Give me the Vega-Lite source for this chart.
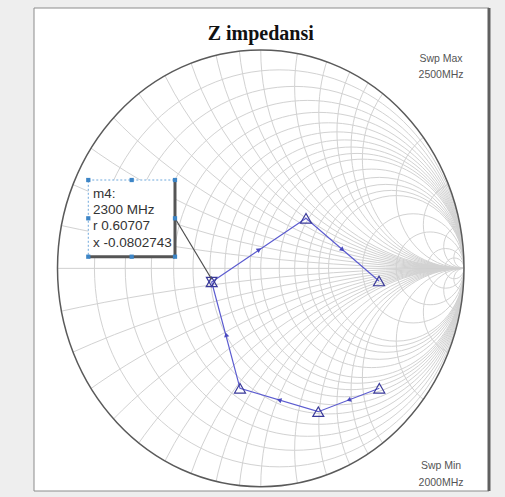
{
  "$schema": "https://vega.github.io/schema/vega-lite/v6.json",
  "width": 455,
  "height": 483,
  "autosize": {"type": "none"},
  "padding": {"left": 34, "top": 8, "right": 16, "bottom": 6},
  "background": "#eeeeee",
  "config": {"view": {"fill": "#ffffff", "stroke": null}},
  "datasets": {
    "grid": [
      {"kind": "r", "v": 0.1, "gx": 0.0909, "gy": 0, "rad": 0.9091},
      {"kind": "r", "v": 0.2, "gx": 0.1667, "gy": 0, "rad": 0.8333},
      {"kind": "r", "v": 0.3, "gx": 0.2308, "gy": 0, "rad": 0.7692},
      {"kind": "r", "v": 0.4, "gx": 0.2857, "gy": 0, "rad": 0.7143},
      {"kind": "r", "v": 0.5, "gx": 0.3333, "gy": 0, "rad": 0.6667},
      {"kind": "r", "v": 0.6, "gx": 0.375, "gy": 0, "rad": 0.625},
      {"kind": "r", "v": 0.7, "gx": 0.4118, "gy": 0, "rad": 0.5882},
      {"kind": "r", "v": 0.8, "gx": 0.4444, "gy": 0, "rad": 0.5556},
      {"kind": "r", "v": 0.9, "gx": 0.4737, "gy": 0, "rad": 0.5263},
      {"kind": "r", "v": 1, "gx": 0.5, "gy": 0, "rad": 0.5},
      {"kind": "r", "v": 1.2, "gx": 0.5455, "gy": 0, "rad": 0.4545},
      {"kind": "r", "v": 1.4, "gx": 0.5833, "gy": 0, "rad": 0.4167},
      {"kind": "r", "v": 1.6, "gx": 0.6154, "gy": 0, "rad": 0.3846},
      {"kind": "r", "v": 1.8, "gx": 0.6429, "gy": 0, "rad": 0.3571},
      {"kind": "r", "v": 2, "gx": 0.6667, "gy": 0, "rad": 0.3333},
      {"kind": "r", "v": 3, "gx": 0.75, "gy": 0, "rad": 0.25},
      {"kind": "r", "v": 5, "gx": 0.8333, "gy": 0, "rad": 0.1667},
      {"kind": "r", "v": 10, "gx": 0.9091, "gy": 0, "rad": 0.0909},
      {"kind": "r", "v": 20, "gx": 0.9524, "gy": 0, "rad": 0.0476},
      {"kind": "x", "v": 0.1, "gx": 1, "gy": 10, "rad": 10},
      {"kind": "x", "v": -0.1, "gx": 1, "gy": -10, "rad": 10},
      {"kind": "x", "v": 0.2, "gx": 1, "gy": 5, "rad": 5},
      {"kind": "x", "v": -0.2, "gx": 1, "gy": -5, "rad": 5},
      {"kind": "x", "v": 0.3, "gx": 1, "gy": 3.3333, "rad": 3.3333},
      {"kind": "x", "v": -0.3, "gx": 1, "gy": -3.3333, "rad": 3.3333},
      {"kind": "x", "v": 0.4, "gx": 1, "gy": 2.5, "rad": 2.5},
      {"kind": "x", "v": -0.4, "gx": 1, "gy": -2.5, "rad": 2.5},
      {"kind": "x", "v": 0.5, "gx": 1, "gy": 2, "rad": 2},
      {"kind": "x", "v": -0.5, "gx": 1, "gy": -2, "rad": 2},
      {"kind": "x", "v": 0.6, "gx": 1, "gy": 1.6667, "rad": 1.6667},
      {"kind": "x", "v": -0.6, "gx": 1, "gy": -1.6667, "rad": 1.6667},
      {"kind": "x", "v": 0.7, "gx": 1, "gy": 1.4286, "rad": 1.4286},
      {"kind": "x", "v": -0.7, "gx": 1, "gy": -1.4286, "rad": 1.4286},
      {"kind": "x", "v": 0.8, "gx": 1, "gy": 1.25, "rad": 1.25},
      {"kind": "x", "v": -0.8, "gx": 1, "gy": -1.25, "rad": 1.25},
      {"kind": "x", "v": 0.9, "gx": 1, "gy": 1.1111, "rad": 1.1111},
      {"kind": "x", "v": -0.9, "gx": 1, "gy": -1.1111, "rad": 1.1111},
      {"kind": "x", "v": 1, "gx": 1, "gy": 1, "rad": 1},
      {"kind": "x", "v": -1, "gx": 1, "gy": -1, "rad": 1},
      {"kind": "x", "v": 1.2, "gx": 1, "gy": 0.8333, "rad": 0.8333},
      {"kind": "x", "v": -1.2, "gx": 1, "gy": -0.8333, "rad": 0.8333},
      {"kind": "x", "v": 1.4, "gx": 1, "gy": 0.7143, "rad": 0.7143},
      {"kind": "x", "v": -1.4, "gx": 1, "gy": -0.7143, "rad": 0.7143},
      {"kind": "x", "v": 1.6, "gx": 1, "gy": 0.625, "rad": 0.625},
      {"kind": "x", "v": -1.6, "gx": 1, "gy": -0.625, "rad": 0.625},
      {"kind": "x", "v": 1.8, "gx": 1, "gy": 0.5556, "rad": 0.5556},
      {"kind": "x", "v": -1.8, "gx": 1, "gy": -0.5556, "rad": 0.5556},
      {"kind": "x", "v": 2, "gx": 1, "gy": 0.5, "rad": 0.5},
      {"kind": "x", "v": -2, "gx": 1, "gy": -0.5, "rad": 0.5},
      {"kind": "x", "v": 3, "gx": 1, "gy": 0.3333, "rad": 0.3333},
      {"kind": "x", "v": -3, "gx": 1, "gy": -0.3333, "rad": 0.3333},
      {"kind": "x", "v": 5, "gx": 1, "gy": 0.2, "rad": 0.2},
      {"kind": "x", "v": -5, "gx": 1, "gy": -0.2, "rad": 0.2},
      {"kind": "x", "v": 10, "gx": 1, "gy": 0.1, "rad": 0.1},
      {"kind": "x", "v": -10, "gx": 1, "gy": -0.1, "rad": 0.1},
      {"kind": "x", "v": 20, "gx": 1, "gy": 0.05, "rad": 0.05},
      {"kind": "x", "v": -20, "gx": 1, "gy": -0.05, "rad": 0.05}
    ],
    "trace": [
      {"f": 2000, "gx": 0.5833, "gy": -0.5494},
      {"f": 2100, "gx": 0.2831, "gy": -0.6565},
      {"f": 2200, "gx": -0.1021, "gy": -0.5494},
      {"f": 2300, "gx": -0.2414, "gy": -0.062},
      {"f": 2400, "gx": 0.2226, "gy": 0.2292},
      {"f": 2500, "gx": 0.5818, "gy": -0.0579}
    ],
    "arrows": [
      {"seg": "2000-2100", "gx": 0.4332, "gy": -0.603, "heading": 249},
      {"seg": "2100-2200", "gx": 0.0905, "gy": -0.603, "heading": 287},
      {"seg": "2200-2300", "gx": -0.1703, "gy": -0.3037, "heading": 345},
      {"seg": "2300-2400", "gx": -0.0079, "gy": 0.0857, "heading": 56},
      {"seg": "2400-2500", "gx": 0.4022, "gy": 0.0857, "heading": 131}
    ],
    "handles": [
      {"gx": -0.8485, "gy": 0.4046},
      {"gx": -0.635, "gy": 0.4046},
      {"gx": -0.4219, "gy": 0.4046},
      {"gx": -0.8485, "gy": 0.2292},
      {"gx": -0.4219, "gy": 0.2292},
      {"gx": -0.8485, "gy": 0.0534},
      {"gx": -0.635, "gy": 0.0534},
      {"gx": -0.4219, "gy": 0.0534}
    ],
    "notes": [
      {"gx": 0.887, "gy": 0.945, "label": "Swp Max"},
      {"gx": 0.887, "gy": 0.874, "label": "2500MHz"},
      {"gx": 0.887, "gy": -0.918, "label": "Swp Min"},
      {"gx": 0.887, "gy": -0.996, "label": "2000MHz"}
    ],
    "markerText": [
      {"gx": -0.8256, "gy": 0.3222, "label": "m4:"},
      {"gx": -0.8256, "gy": 0.248, "label": "2300 MHz"},
      {"gx": -0.8256, "gy": 0.1738, "label": "r 0.60707"},
      {"gx": -0.8256, "gy": 0.0996, "label": "x -0.0802743"}
    ]
  },
  "encoding": {
    "x": {"field": "gx", "type": "quantitative", "axis": null, "scale": {"domain": [-1.1156, 1.123], "nice": false, "zero": false}},
    "y": {"field": "gy", "type": "quantitative", "axis": null, "scale": {"domain": [-1.0197, 1.1924], "nice": false, "zero": false}}
  },
  "layer": [
    {
      "data": {"name": "grid"},
      "mark": {"type": "point", "shape": "M -1 0 A 1 1.0743 0 1 1 1 0 A 1 1.0743 0 1 1 -1 0 Z", "filled": false, "stroke": "#d2d2d2", "strokeWidth": 1, "opacity": 1, "clip": true},
      "encoding": {
        "size": {"field": "rad", "type": "quantitative", "legend": null, "scale": {"type": "pow", "exponent": 2, "domain": [0, 10], "range": [0, 16524225], "clamp": false, "nice": false, "zero": true}}
      }
    },
    {
      "data": {"values": [{"gx": -1, "gx2": 1, "gy": 0}]},
      "mark": {"type": "rule", "stroke": "#cfcfcf", "strokeWidth": 1},
      "encoding": {"x2": {"field": "gx2"}}
    },
    {
      "data": {"values": [{"gx": 0, "gy": 0, "rad": 1}]},
      "mark": {"type": "point", "shape": "M -20 -20 H 20 V 20 H -20 Z M -1 0 A 1 1.0743 0 1 0 1 0 A 1 1.0743 0 1 0 -1 0 Z", "filled": true, "fill": "#ffffff", "strokeWidth": 0, "opacity": 1, "clip": true},
      "encoding": {"size": {"field": "rad", "type": "quantitative", "legend": null}}
    },
    {
      "data": {"values": [{"gx": 0, "gy": 0, "rad": 1}]},
      "mark": {"type": "point", "shape": "M -1 0 A 1 1.0743 0 1 1 1 0 A 1 1.0743 0 1 1 -1 0 Z", "filled": false, "stroke": "#5a5a5a", "strokeWidth": 1.5, "opacity": 1},
      "encoding": {"size": {"field": "rad", "type": "quantitative", "legend": null}}
    },
    {
      "data": {"values": [{"gx": -1.1156, "gx2": 1.123, "gy": -1.0197, "gy2": 1.1924}]},
      "mark": {"type": "rect", "fill": null, "stroke": "#8c8c8c", "strokeWidth": 1, "clip": false},
      "encoding": {"x2": {"field": "gx2"}, "y2": {"field": "gy2"}}
    },
    {
      "data": {"values": [{"gx": 1.123, "gy": -1.0197, "gy2": 1.1924}]},
      "mark": {"type": "rule", "stroke": "#606060", "strokeWidth": 3, "clip": false},
      "encoding": {"y2": {"field": "gy2"}}
    },
    {
      "data": {"values": [{"gx": 0, "gy": 1.0481, "label": "Z impedansi"}]},
      "mark": {"type": "text", "font": "Liberation Serif", "fontSize": 20, "fontWeight": "bold", "align": "center", "baseline": "alphabetic", "fill": "#111111"},
      "encoding": {"text": {"field": "label"}}
    },
    {
      "data": {"name": "notes"},
      "mark": {"type": "text", "font": "Liberation Sans", "fontSize": 10.5, "align": "center", "baseline": "alphabetic", "fill": "#555555"},
      "encoding": {"text": {"field": "label"}}
    },
    {
      "data": {"name": "trace"},
      "mark": {"type": "line", "stroke": "#5c5cd0", "strokeWidth": 1.2},
      "encoding": {"order": {"field": "f", "type": "quantitative"}}
    },
    {
      "data": {"name": "arrows"},
      "mark": {"type": "point", "shape": "triangle-up", "filled": true, "fill": "#4a4ac0", "size": 28, "opacity": 1},
      "encoding": {"angle": {"field": "heading", "type": "quantitative", "legend": null, "scale": {"domain": [0, 360], "range": [0, 360]}}}
    },
    {
      "data": {"name": "trace"},
      "mark": {"type": "point", "shape": "triangle-up", "filled": false, "stroke": "#3a3a9a", "strokeWidth": 1.2, "size": 120, "opacity": 1}
    },
    {
      "data": {"values": [{"gx": -0.2414, "gy": -0.062}]},
      "mark": {"type": "point", "shape": "triangle-down", "filled": false, "stroke": "#3a3a9a", "strokeWidth": 1.2, "size": 110, "opacity": 1}
    },
    {
      "data": {"values": [{"gx": -0.4219, "gy": 0.2292, "gx2": -0.2414, "gy2": -0.05}]},
      "mark": {"type": "rule", "stroke": "#4d4d4d", "strokeWidth": 1.2},
      "encoding": {"x2": {"field": "gx2"}, "y2": {"field": "gy2"}}
    },
    {
      "data": {"values": [{"gx": -0.8485, "gx2": -0.4219, "gy": 0.0534, "gy2": 0.4046}]},
      "mark": {"type": "rect", "fill": "#ffffff", "stroke": "#6fa8dc", "strokeWidth": 1, "strokeDash": [2, 2]},
      "encoding": {"x2": {"field": "gx2"}, "y2": {"field": "gy2"}}
    },
    {
      "data": {"values": [{"gx": -0.4219, "gy": 0.0534, "gy2": 0.4046}]},
      "mark": {"type": "rule", "stroke": "#555555", "strokeWidth": 3},
      "encoding": {"y2": {"field": "gy2"}}
    },
    {
      "data": {"values": [{"gx": -0.8485, "gx2": -0.4219, "gy": 0.0534}]},
      "mark": {"type": "rule", "stroke": "#555555", "strokeWidth": 3},
      "encoding": {"x2": {"field": "gx2"}}
    },
    {
      "data": {"name": "handles"},
      "mark": {"type": "point", "shape": "square", "filled": true, "fill": "#3d85c6", "size": 18, "opacity": 1}
    },
    {
      "data": {"name": "markerText"},
      "mark": {"type": "text", "font": "Liberation Sans", "fontSize": 13.5, "align": "left", "baseline": "alphabetic", "fill": "#333333"},
      "encoding": {"text": {"field": "label"}}
    }
  ]
}
